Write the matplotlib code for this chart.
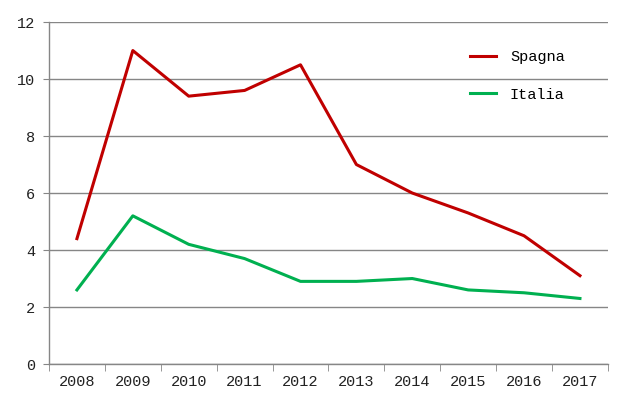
import numpy as np
import matplotlib.pyplot as plt

years = ["2008", "2009", "2010", "2011", "2012", "2013", "2014", "2015", "2016", "2017"]
spagna = [4.4, 11.0, 9.4, 9.6, 10.5, 7.0, 6.0, 5.3, 4.5, 3.1]
italia = [2.6, 5.2, 4.2, 3.7, 2.9, 2.9, 3.0, 2.6, 2.5, 2.3]

plt.rcParams['font.family'] = ['Liberation Mono', 'DejaVu Sans']

fig = plt.figure(figsize=(6.28, 4.13), dpi=100)
ax = fig.add_axes([0.078, 0.1186, 0.890, 0.828])

x = np.arange(len(years))
ax.plot(x, spagna, color='#C00000', lw=2.2, label='Spagna')
ax.plot(x, italia, color='#00B050', lw=2.2, label='Italia')

ax.set_xlim(-0.5, len(years) - 0.5)
ax.set_ylim(0, 12)
ax.set_yticks(range(0, 13, 2))
ax.set_xticks(x)
ax.set_xticklabels(years)
ax.set_xticks(np.arange(-0.5, len(years), 1), minor=True)

grid_c = '#868686'
ax.grid(axis='y', color=grid_c, lw=1)
ax.set_axisbelow(True)
for s in ['top', 'right']:
    ax.spines[s].set_visible(False)
for s in ['left', 'bottom']:
    ax.spines[s].set_color(grid_c)
    ax.spines[s].set_linewidth(1)

ax.tick_params(axis='x', which='major', length=0, pad=8, labelsize=11, labelcolor='#222222')
ax.tick_params(axis='x', which='minor', length=5, color=grid_c, direction='out')
ax.tick_params(axis='y', length=4, color=grid_c, pad=6, labelsize=11, labelcolor='#222222')

ax.legend(loc='upper left', bbox_to_anchor=(0.729, 0.958), frameon=False,
          fontsize=11, handlelength=1.7, handletextpad=0.9, labelspacing=1.53)

fig.savefig('out.png', dpi=100)
